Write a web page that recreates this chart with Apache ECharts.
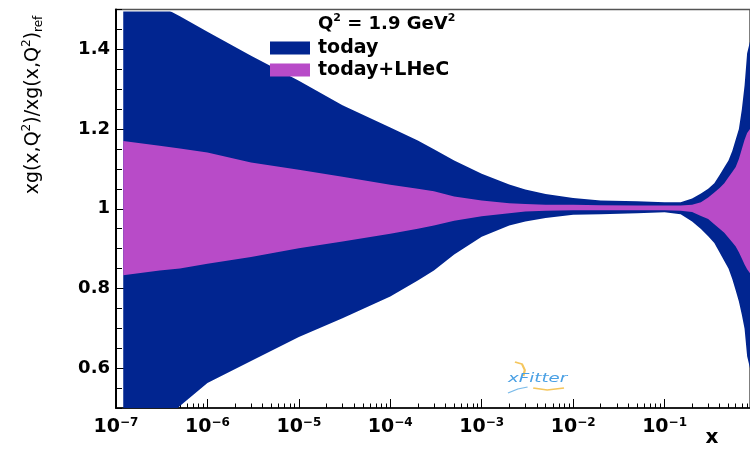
<!DOCTYPE html>
<html>
<head>
<meta charset="utf-8">
<script src="https://cdn.jsdelivr.net/npm/echarts@6/dist/echarts.min.js"></script>
<style>
  html, body { margin: 0; padding: 0; background: #fff; }
  #chart { width: 750px; height: 449px; }
</style>
</head>
<body>
<div id="chart"></div>
<script>
// Gluon ratio xg(x,Q^2)/xg(x,Q^2)_ref at Q^2 = 1.9 GeV^2: uncertainty bands
const xValues   = [1.2e-7, 3e-7, 5e-7, 1e-6, 3e-6, 1e-5, 3e-5, 1e-4, 2e-4, 3e-4, 5e-4, 1e-3, 2e-3, 3e-3, 5e-3, 1e-2, 2e-2, 5e-2,
                   0.1, 0.15, 0.2, 0.25, 0.3, 0.35, 0.4, 0.45, 0.5, 0.55, 0.6, 0.65, 0.7, 0.75, 0.8, 0.86];
const todayHigh = [1.56, 1.51, 1.483, 1.444, 1.384, 1.321, 1.260, 1.204, 1.171, 1.149, 1.121, 1.088, 1.061, 1.048, 1.037, 1.027, 1.021, 1.019,
                   1.016, 1.016, 1.026, 1.038, 1.050, 1.064, 1.085, 1.104, 1.121, 1.145, 1.174, 1.200, 1.249, 1.309, 1.39, 1.42];
const todayLow  = [0.40, 0.46, 0.505, 0.563, 0.618, 0.678, 0.725, 0.780, 0.820, 0.845, 0.885, 0.930, 0.958, 0.968, 0.977, 0.985, 0.986, 0.989,
                   0.991, 0.986, 0.968, 0.949, 0.931, 0.914, 0.890, 0.869, 0.850, 0.824, 0.795, 0.767, 0.734, 0.699, 0.63, 0.60];
const lhecHigh  = [1.170, 1.158, 1.151, 1.141, 1.116, 1.098, 1.080, 1.060, 1.050, 1.044, 1.031, 1.021, 1.014, 1.012, 1.010, 1.010, 1.009, 1.008,
                   1.008, 1.008, 1.010, 1.016, 1.028, 1.041, 1.052, 1.064, 1.079, 1.092, 1.105, 1.125, 1.150, 1.173, 1.19, 1.20];
const lhecLow   = [0.833, 0.845, 0.850, 0.862, 0.879, 0.901, 0.918, 0.937, 0.950, 0.958, 0.970, 0.981, 0.989, 0.993, 0.995, 0.996, 0.996, 0.996,
                   0.996, 0.995, 0.992, 0.982, 0.974, 0.961, 0.950, 0.940, 0.927, 0.916, 0.905, 0.891, 0.875, 0.860, 0.848, 0.838];

// Axis ticks and labels
const xDecades = [1e-7, 1e-6, 1e-5, 1e-4, 1e-3, 1e-2, 1e-1];
const yLabels  = [0.6, 0.8, 1, 1.2, 1.4];
const xMin = 1e-7, xMax = 0.86;
const yMin = 0.5, yMax = 1.5;

const xMinor = [];
xDecades.forEach(d => { for (let m = 2; m <= 9; m++) { const v = m * d; if (v < xMax) xMinor.push(v); } });

const BLUE = '#012590';
const MAGENTA = '#b84bc8';
const FONT = 'DejaVu Sans';

// A filled band between a lower and an upper curve, drawn as one polygon
// through the cartesian coordinate system and clipped to the plot frame.
function bandSeries(name, low, high, color, z) {
  const rows = xValues.map((x, i) => [x, low[i], high[i]]);
  return {
    name, type: 'custom', silent: true, z,
    itemStyle: { color },
    encode: { x: 0, y: [1, 2] },
    data: rows,
    renderItem(params, api) {
      if (params.dataIndex !== 0) return null;
      const top = rows.map(r => api.coord([r[0], r[2]]));
      const bottom = rows.map(r => api.coord([r[0], r[1]])).reverse();
      const cs = params.coordSys;
      return {
        type: 'polygon',
        shape: { points: top.concat(bottom) },
        style: { fill: color, stroke: null },
        clipPath: { type: 'rect', shape: { x: cs.x, y: cs.y + 2, width: cs.width, height: cs.height - 2 } }
      };
    }
  };
}

const chart = echarts.init(document.getElementById('chart'), null, { renderer: 'canvas' });

chart.setOption({
  animation: false,
  backgroundColor: '#fff',
  grid: { left: 116, right: 0, top: 9.5, bottom: 41, show: true, borderColor: '#555', borderWidth: 1.5, backgroundColor: 'transparent' },
  title: {
    left: 313, top: 8,
    text: '{a|Q}{p|2}{a| = 1.9 GeV}{p|2}',
    textStyle: {
      rich: {
        a: { fontFamily: FONT, fontWeight: 'bold', fontSize: 18, color: '#000', lineHeight: 22 },
        p: { fontFamily: FONT, fontWeight: 'bold', fontSize: 11, color: '#000', verticalAlign: 'top', lineHeight: 11 }
      }
    }
  },
  legend: {
    data: ['today', 'today+LHeC'],
    orient: 'vertical', left: 265, top: 33,
    icon: 'rect', itemWidth: 40, itemHeight: 13, itemGap: 2,
    selectedMode: false,
    textStyle: { fontFamily: FONT, fontWeight: 'bold', fontSize: 19, color: '#000', lineHeight: 20, padding: [0, 0, 0, 3] }
  },
  xAxis: [
    {
      type: 'log', logBase: 10, min: xMin, max: xMax,
      axisLine: { show: true, lineStyle: { color: '#000', width: 1.5 } },
      axisTick: { show: true, inside: true, length: 9, customValues: xDecades, lineStyle: { color: '#000', width: 1 } },
      minorTick: { show: false },
      splitLine: { show: false },
      axisLabel: {
        customValues: xDecades, margin: 9,
        formatter: v => '{b|10}{s|\u2212' + Math.abs(Math.round(Math.log10(v))) + '}',
        rich: {
          b: { fontFamily: FONT, fontWeight: 'bold', fontSize: 19, color: '#000', lineHeight: 20 },
          s: { fontFamily: FONT, fontWeight: 'bold', fontSize: 12, color: '#000', verticalAlign: 'top', lineHeight: 11 }
        }
      }
    },
    {
      type: 'log', logBase: 10, min: xMin, max: xMax, position: 'bottom',
      axisLine: { show: false },
      axisTick: { show: true, inside: true, length: 4.5, customValues: xMinor, lineStyle: { color: '#000', width: 1 } },
      axisLabel: { show: false },
      splitLine: { show: false }
    }
  ],
  yAxis: [
    {
      type: 'value', min: yMin, max: yMax, interval: 0.05,
      axisLine: { show: true, lineStyle: { color: '#000', width: 2 } },
      axisTick: { show: true, inside: true, length: 6, lineStyle: { color: '#000', width: 1 } },
      splitLine: { show: false },
      axisLabel: {
        customValues: yLabels, margin: 6,
        fontFamily: FONT, fontWeight: 'bold', fontSize: 18, color: '#000'
      }
    },
    {
      type: 'value', min: yMin, max: yMax, position: 'left',
      axisLine: { show: false },
      axisTick: { show: true, inside: true, length: 11, customValues: yLabels, lineStyle: { color: '#000', width: 1 } },
      axisLabel: { show: false },
      splitLine: { show: false }
    }
  ],
  series: [
    bandSeries('today', todayLow, todayHigh, BLUE, 2),
    bandSeries('today+LHeC', lhecLow, lhecHigh, MAGENTA, 3)
  ],
  graphic: [
    {
      type: 'text', x: 33, y: 105, rotation: Math.PI / 2,
      style: {
        text: '{a|xg(x,Q}{p|2}{a|)/xg(x,Q}{p|2}{a|)}{r|ref}',
        align: 'center', verticalAlign: 'middle',
        rich: {
          a: { fontFamily: FONT, fontSize: 19, fill: '#000', lineHeight: 24 },
          p: { fontFamily: FONT, fontSize: 12, fill: '#000', verticalAlign: 'top', lineHeight: 12 },
          r: { fontFamily: FONT, fontSize: 12, fill: '#000', verticalAlign: 'bottom', lineHeight: 12 }
        }
      }
    },
    {
      type: 'text', x: 712, y: 438,
      style: { text: 'x', fontFamily: FONT, fontWeight: 'bold', fontSize: 20, fill: '#000', align: 'center', verticalAlign: 'middle' }
    },
    {
      // xFitter logo
      type: 'group', x: 508, y: 372, scaleX: 1.4,
      children: [
        { type: 'polyline', shape: { points: [[5, -10], [10, -8], [12, -2], [11, 4]] }, style: { stroke: '#f5c65c', lineWidth: 1.6, fill: null } },
        { type: 'polyline', shape: { points: [[18, 16], [28, 18], [40, 16]] }, style: { stroke: '#f5c65c', lineWidth: 1.6, fill: null } },
        { type: 'text', x: 0, y: 0, style: { text: 'xFitter', fontFamily: FONT, fontStyle: 'italic', fontSize: 13, fill: '#4aa0e4' } },
        { type: 'polyline', shape: { points: [[0, 21], [7, 17], [14, 15]] }, style: { stroke: '#7bbbe9', lineWidth: 1, fill: null } }
      ]
    }
  ]
});
</script>
</body>
</html>
